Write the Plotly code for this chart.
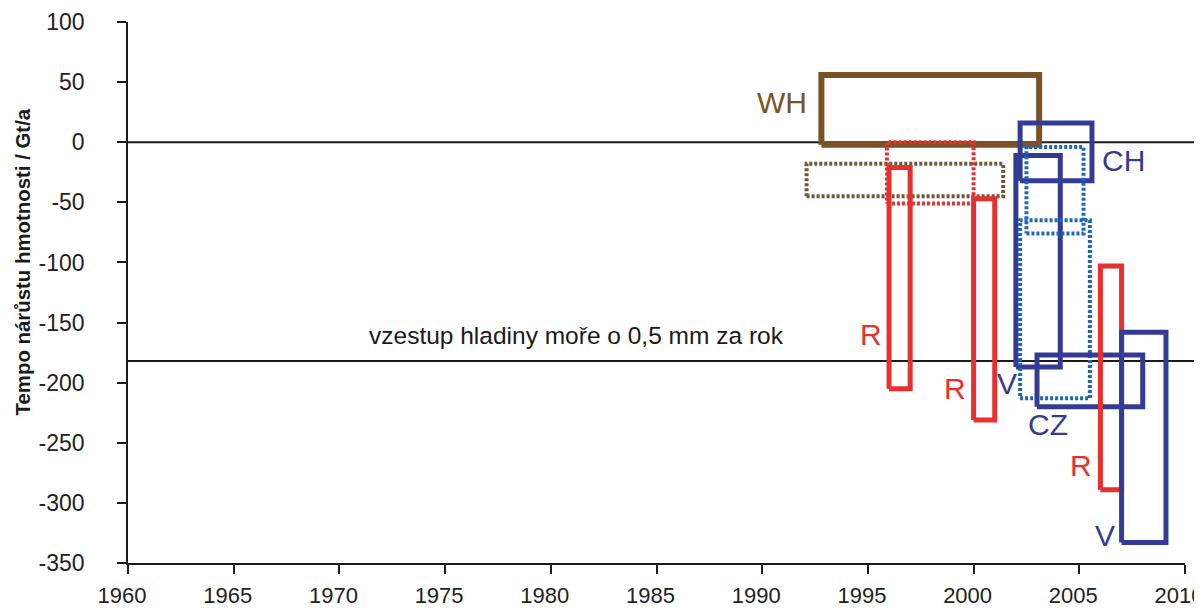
import plotly.graph_objects as go

# Rectangles: (label, x0, x1, y0, y1, style)
rect_names = ["WH_dot", "WH", "R_dot", "R1", "R2", "V1", "CH", "B_dotA", "B_dotB", "CZ", "R3", "V2"]
rect_x0 = [1992.1, 1992.8, 1995.9, 1996.0, 2000.0, 2002.0, 2002.2, 2002.5, 2002.2, 2003.0, 2006.0, 2007.0]
rect_x1 = [2001.4, 2003.1, 2000.0, 1997.0, 2001.0, 2004.1, 2005.6, 2005.2, 2005.5, 2008.0, 2007.0, 2009.1]
rect_y0 = [-45, -2, -51, -205, -231, -187, -32, -76, -213, -220, -289, -333]
rect_y1 = [-18, 56, 0, -21, -47, -11, 16, -4, -65, -177, -103, -158]
rect_style = ["brown_dot", "brown", "red_dot", "red", "red", "navy", "navy", "blue_dot", "blue_dot", "navy", "red", "navy"]

label_text = ["WH", "CH", "R", "R", "V", "CZ", "R", "V"]
label_x = [1992.2, 2006.0, 1995.15, 1999.1, 2001.6, 2003.5, 2005.1, 2006.2]
label_y = [33, -15, -160, -205, -201, -235, -269, -327]
label_color = ["brown", "navy", "red", "red", "navy", "navy", "red", "navy"]
label_anchor = ["right", "left", "center", "center", "center", "center", "center", "center"]

ref_levels = [0, -182]
ref_text = "vzestup hladiny moře o 0,5 mm za rok"
y_title = "Tempo nárůstu hmotnosti / Gt/a"

x_ticks = [1960, 1965, 1970, 1975, 1980, 1985, 1990, 1995, 2000, 2005, 2010]
y_ticks = [100, 50, 0, -50, -100, -150, -200, -250, -300, -350]

colors = {
    "brown": "#7a5226", "brown_dot": "#6f5638",
    "red": "#e8302e", "red_dot": "#e8302e",
    "navy": "#343b94", "blue_dot": "#1f66b3",
}
widths = {"brown": 6, "brown_dot": 4, "red": 5, "red_dot": 4, "navy": 5, "blue_dot": 4}
FONT = "Liberation Sans, Arial, Helvetica"

fig = go.Figure()

for i in range(len(rect_names)):
    x0, x1, y0, y1 = rect_x0[i], rect_x1[i], rect_y0[i], rect_y1[i]
    st = rect_style[i]
    fig.add_trace(go.Scatter(
        x=[x0, x1, x1, x0, x0], y=[y0, y0, y1, y1, y0],
        mode="lines", hoverinfo="skip", showlegend=False,
        line=dict(color=colors[st], width=widths[st],
                  dash="3px,2px" if st.endswith("_dot") else "solid"),
    ))

for lv in ref_levels:
    fig.add_shape(type="line", xref="paper", yref="y", x0=0, x1=1.03, y0=lv, y1=lv,
                  line=dict(color="#1a1a1a", width=2), layer="below")

fig.add_annotation(x=1981.2, y=-161, text=ref_text, showarrow=False,
                   font=dict(size=24.5, color="#1a1a1a", family=FONT))

for t, x, y, c, a in zip(label_text, label_x, label_y, label_color, label_anchor):
    fig.add_annotation(x=x, y=y, text=t, showarrow=False, xanchor=a,
                       font=dict(size=30, color=colors[c], family=FONT))

fig.add_annotation(xref="paper", yref="y", x=-0.0993, y=-100, text="<b>" + y_title + "</b>",
                   showarrow=False, textangle=-90, xanchor="center", yanchor="middle",
                   font=dict(size=20.4, color="#1a1a1a", family=FONT))

fig.update_layout(
    width=1194, height=600,
    margin=dict(l=120, r=17, t=14, b=45, autoexpand=False),
    paper_bgcolor="white", plot_bgcolor="white",
    font=dict(family=FONT, size=23, color="#1a1a1a"),
    xaxis=dict(range=[1960, 2010], tickvals=x_ticks, ticktext=[str(v) for v in x_ticks],
               showgrid=False, zeroline=False,
               showline=True, linecolor="#1a1a1a", linewidth=1.5,
               ticks="outside", ticklen=9, tickcolor="#1a1a1a", tickwidth=1.5,
               ticklabelstandoff=3, ticklabelshift=-6, ticklabeloverflow="allow",
               tickfont=dict(size=22, family=FONT, color="#222")),
    yaxis=dict(range=[-350, 100], tickvals=y_ticks, ticktext=[str(v) for v in y_ticks],
               showgrid=False, zeroline=False,
               showline=True, linecolor="#1a1a1a", linewidth=1.5,
               ticks="outside", ticklen=9, tickcolor="#1a1a1a", tickwidth=1.5,
               ticklabelstandoff=28,
               tickfont=dict(size=23, family=FONT, color="#222"),
               automargin=False),
)

fig.write_html("out.html")
